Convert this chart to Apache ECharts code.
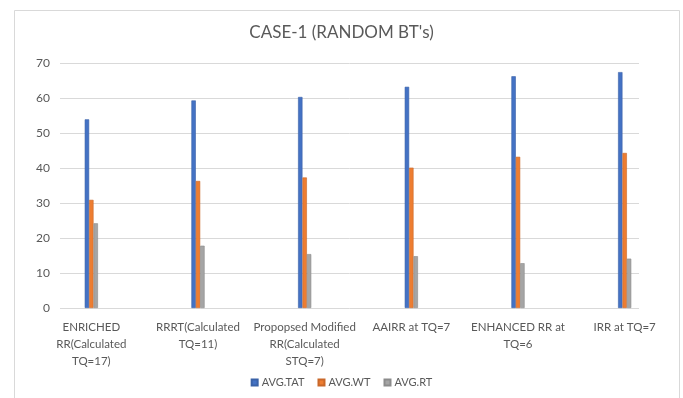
<!DOCTYPE html>
<html>
<head>
<meta charset="utf-8">
<script src="https://cdn.jsdelivr.net/npm/echarts@6/dist/echarts.min.js"></script>
<style>
html,body{margin:0;padding:0;background:#fff;}
#chart{width:683px;height:398px;}
</style>
</head>
<body>
<div id="chart"></div>
<script>
var categories = [
  "ENRICHED\nRR(Calculated\nTQ=17)",
  "RRRT(Calculated\nTQ=11)",
  "Propopsed Modified\nRR(Calculated\nSTQ=7)",
  "AAIRR at TQ=7",
  "ENHANCED RR at\nTQ=6",
  "IRR at TQ=7"
];
var avgTAT = [53.9, 59.3, 60.3, 63.2, 66.2, 67.4];
var avgWT  = [30.9, 36.3, 37.3, 40.1, 43.2, 44.3];
var avgRT  = [24.2, 17.8, 15.4, 14.8, 12.8, 14.1];
var yTicks = [0, 10, 20, 30, 40, 50, 60, 70];

var FONT = 'Lato';
var TXT = '#595959';
var chart = echarts.init(document.getElementById('chart'));

function barSeries(name, data, color, border) {
  return {
    name: name, type: 'bar', data: data,
    xAxisIndex: 1, yAxisIndex: 1,
    barWidth: 4.4, barGap: '0%',
    itemStyle: { color: color, borderColor: border, borderWidth: 0.6 }
  };
}

chart.setOption({
  animation: false,
  backgroundColor: '#fff',
  textStyle: { fontFamily: FONT },
  graphic: [{
    type: 'rect', shape: { x: 14.5, y: 10.5, width: 665, height: 400 },
    style: { fill: 'none', stroke: '#D9D9D9', lineWidth: 1 }, silent: true, z: -10
  }],
  title: {
    text: "CASE-1 (RANDOM BT's)", left: 'center', top: 19,
    textStyle: { fontFamily: FONT, fontSize: 17, fontWeight: 'normal', color: TXT }
  },
  legend: {
    bottom: 5, left: 'center', icon: 'rect', itemWidth: 6, itemHeight: 6, itemGap: 13,
    textStyle: { fontFamily: FONT, fontSize: 11, color: TXT, padding: [0, 0, 0, -1] },
    data: ['AVG.TAT', 'AVG.WT', 'AVG.RT']
  },
  grid: [
    { left: 60, right: 44, top: 63, bottom: 90 },
    { left: 38, right: 5, top: 63, bottom: 90 }
  ],
  xAxis: [
    { type: 'category', gridIndex: 0, data: categories, show: false },
    { type: 'category', gridIndex: 1, data: categories,
      axisLine: { show: false }, axisTick: { show: false },
      axisLabel: { interval: 0, margin: 11, fontFamily: FONT, fontSize: 11.5, color: TXT, lineHeight: 17 } }
  ],
  yAxis: [
    { type: 'value', gridIndex: 0, min: yTicks[0], max: yTicks[yTicks.length - 1], interval: 10,
      axisLine: { show: false }, axisTick: { show: false },
      axisLabel: { fontFamily: FONT, fontSize: 12, color: TXT, margin: 10 },
      splitLine: { lineStyle: { color: '#D9D9D9', width: 1 } } },
    { type: 'value', gridIndex: 1, min: yTicks[0], max: yTicks[yTicks.length - 1], interval: 10,
      show: false, splitLine: { show: false } }
  ],
  series: [
    barSeries('AVG.TAT', avgTAT, '#4472C4', '#3A62A8'),
    barSeries('AVG.WT', avgWT, '#ED7D31', '#C9682A'),
    barSeries('AVG.RT', avgRT, '#A5A5A5', '#8C8C8C')
  ]
});
</script>
</body>
</html>
